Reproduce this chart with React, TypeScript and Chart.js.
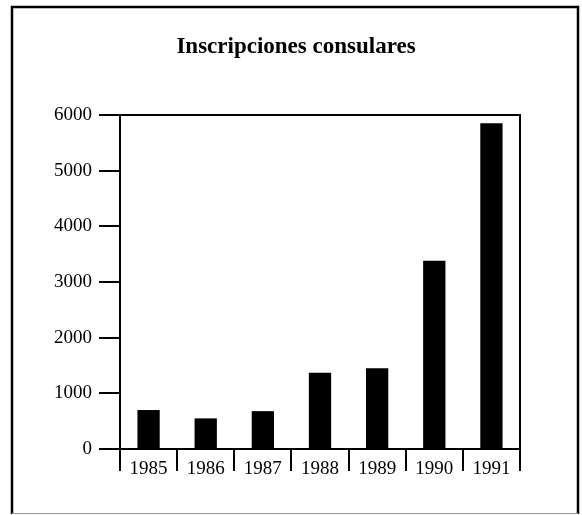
import React, { useEffect, useRef } from "react";
import { Chart, registerables } from "chart.js";

Chart.register(...registerables);

const categories = ["1985", "1986", "1987", "1988", "1989", "1990", "1991"];
const inscripciones = [700, 550, 680, 1370, 1450, 3380, 5850];
const yTicks = [0, 1000, 2000, 3000, 4000, 5000, 6000];
const titleText = "Inscripciones consulares";

const SERIF = "'Liberation Serif', 'Times New Roman', serif";

const framePlugin = {
  id: "framePlugin",
  afterLayout(chart: any) {
    const t = chart.titleBlock;
    if (t) {
      t.left = 72;
      t.right = 520;
      t.width = 448;
    }
  },
  afterDraw(chart: any) {
    const { ctx, chartArea } = chart;
    ctx.save();
    ctx.strokeStyle = "#000";
    ctx.lineWidth = 2;
    ctx.beginPath();
    ctx.moveTo(chartArea.left, chartArea.top);
    ctx.lineTo(chartArea.right, chartArea.top);
    ctx.lineTo(chartArea.right, chartArea.bottom);
    ctx.stroke();
    ctx.lineWidth = 2.5;
    ctx.beginPath();
    ctx.moveTo(12, 514);
    ctx.lineTo(12, 7);
    ctx.lineTo(578, 7);
    ctx.lineTo(578, 514);
    ctx.stroke();
    ctx.strokeStyle = "#999";
    ctx.lineWidth = 1;
    ctx.beginPath();
    ctx.moveTo(12, 513.5);
    ctx.lineTo(578, 513.5);
    ctx.stroke();
    ctx.restore();
  },
};

export default function App() {
  const ref = useRef<HTMLCanvasElement>(null);
  useEffect(() => {
    if (!ref.current) return;
    const chart = new Chart(ref.current, {
      type: "bar",
      data: {
        labels: categories,
        datasets: [
          {
            data: inscripciones,
            backgroundColor: "#000",
            borderWidth: 0,
            categoryPercentage: 1,
            barPercentage: 0.39,
          },
        ],
      },
      options: {
        animation: false,
        responsive: false,
        maintainAspectRatio: false,
        layout: { padding: { left: 0, right: 62, top: 0, bottom: 0 } },
        plugins: {
          legend: { display: false },
          tooltip: { enabled: false },
          title: {
            display: true,
            text: titleText,
            color: "#000",
            font: { family: SERIF, size: 23, weight: "bold", lineHeight: 1.2 },
            padding: { top: 33, bottom: 54.4 },
          },
        },
        scales: {
          x: {
            grid: {
              offset: true,
              drawOnChartArea: false,
              drawTicks: true,
              tickLength: 22,
              tickColor: "#000",
              tickWidth: 2,
              lineWidth: 2,
              color: "#000",
            },
            border: { display: true, color: "#000", width: 2 },
            ticks: {
              color: "#000",
              padding: -13,
              font: { family: SERIF, size: 19 },
              maxRotation: 0,
              autoSkip: false,
            },
            afterFit: (scale: any) => {
              scale.height = 66;
            },
          },
          y: {
            min: 0,
            max: 6000,
            afterBuildTicks: (scale: any) => {
              scale.ticks = yTicks.map((v) => ({ value: v }));
            },
            grid: {
              drawOnChartArea: false,
              drawTicks: true,
              tickLength: 21,
              tickColor: "#000",
              tickWidth: 2,
              lineWidth: 2,
              color: "#000",
            },
            border: { display: true, color: "#000", width: 2 },
            ticks: {
              color: "#000",
              padding: 7,
              font: { family: SERIF, size: 19 },
              callback: (v: any) => String(v),
            },
            afterFit: (scale: any) => {
              scale.width = 120;
            },
          },
        },
      },
      plugins: [framePlugin],
    });
    return () => chart.destroy();
  }, []);
  return (
    <div style={{ position: "absolute", left: 0, top: 0, width: 582, height: 515, background: "#fff" }}>
      <canvas ref={ref} width={582} height={515} style={{ display: "block", width: 582, height: 515 }} />
    </div>
  );
}
